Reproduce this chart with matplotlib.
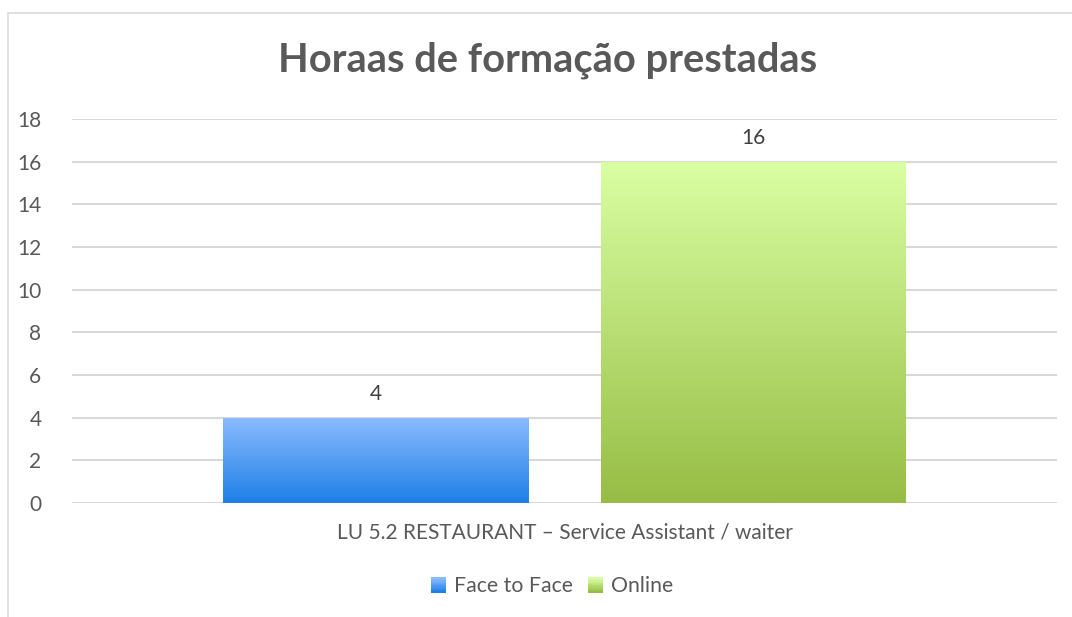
import numpy as np
import matplotlib
matplotlib.use("Agg")
import matplotlib.pyplot as plt
from matplotlib.patches import Rectangle
from matplotlib.legend_handler import HandlerBase
from matplotlib.colors import LinearSegmentedColormap

plt.rcParams['font.family'] = ['Lato', 'DejaVu Sans']

title = "Horaas de formação prestadas"
category = "LU 5.2 RESTAURANT – Service Assistant / waiter"
series_names = ["Face to Face", "Online"]
series_values = [4, 16]
y_ticks = [0, 2, 4, 6, 8, 10, 12, 14, 16, 18]

# gradient colours (top, bottom)
grad_colors = [("#8BBCFF", "#1E7FE6"), ("#D9FFA3", "#97BD45")]

W, H = 1072, 617
fig = plt.figure(figsize=(W / 100, H / 100), dpi=100)

# chart outer frame
fig.patches.append(Rectangle((8 / W, -0.1), 1.2, 1 - 13 / H + 0.1, transform=fig.transFigure,
                             fill=False, edgecolor="#D9D9D9", linewidth=1.2))

ax = fig.add_axes([72 / W, 1 - 503 / H, (1057 - 72) / W, (503 - 119) / H])
ax.set_ylim(0, 18)
ax.set_xlim(0, 1)
ax.set_yticks(y_ticks)
ax.set_yticklabels([str(t) for t in y_ticks], fontsize=15, color="#595959")
ax.tick_params(axis='y', length=0, pad=22)
ax.set_xticks([0.5])
ax.set_xticklabels([category], fontsize=15, color="#595959")
ax.tick_params(axis='x', length=0, pad=14)
for s in ax.spines.values():
    s.set_visible(False)
ax.yaxis.grid(True, color="#D9D9D9", linewidth=1.5)
ax.set_axisbelow(True)

bar_w = 305 / 985
gap = 72 / 985
centers = [0.5 - gap / 2 - bar_w / 2, 0.5 + gap / 2 + bar_w / 2]
for i, (c, v) in enumerate(zip(centers, series_values)):
    bars = ax.bar(c, v, width=bar_w, color="none", edgecolor="none", zorder=2)
    b = bars[0]
    cmap = LinearSegmentedColormap.from_list("g%d" % i, [grad_colors[i][1], grad_colors[i][0]])
    grad = np.linspace(0, 1, 256).reshape(-1, 1)
    x0 = b.get_x()
    im = ax.imshow(grad, cmap=cmap, aspect='auto', origin='lower',
                   extent=[x0, x0 + b.get_width(), 0, b.get_height()], zorder=3)
    im.set_clip_path(b)
    ax.text(c, v + 1.1, str(v), ha='center', va='center', fontsize=15, color="#404040")
ax.set_xlim(0, 1)
ax.set_ylim(0, 18)

fig.text(548 / W, 1 - 60 / H, title, ha='center', va='center', fontsize=28.7,
         fontweight='bold', color="#595959")


class GradHandler(HandlerBase):
    def __init__(self, top, bottom):
        super().__init__()
        self.top, self.bottom = top, bottom

    def create_artists(self, legend, orig_handle, xdescent, ydescent, width, height, fontsize, trans):
        n = 12
        size = height * 1.0
        x = xdescent + width - size
        cmap = LinearSegmentedColormap.from_list("h", [self.bottom, self.top])
        arts = []
        for k in range(n):
            r = Rectangle((x, -ydescent + size * k / n - 0.5), size, size / n + 0.3,
                          facecolor=cmap(k / (n - 1)), edgecolor='none', transform=trans)
            arts.append(r)
        return arts


handles = [Rectangle((0, 0), 1, 1) for _ in series_names]
hmap = {h: GradHandler(grad_colors[i][0], grad_colors[i][1]) for i, h in enumerate(handles)}
fig.legend(handles, series_names, handler_map=hmap, loc='center', bbox_to_anchor=(551 / W, 1 - 586 / H),
           ncol=2, frameon=False, fontsize=15.3, labelcolor="#595959", handlelength=0.8,
           handletextpad=0.4, columnspacing=0.6)

fig.savefig("out.png", dpi=100, facecolor="white")
